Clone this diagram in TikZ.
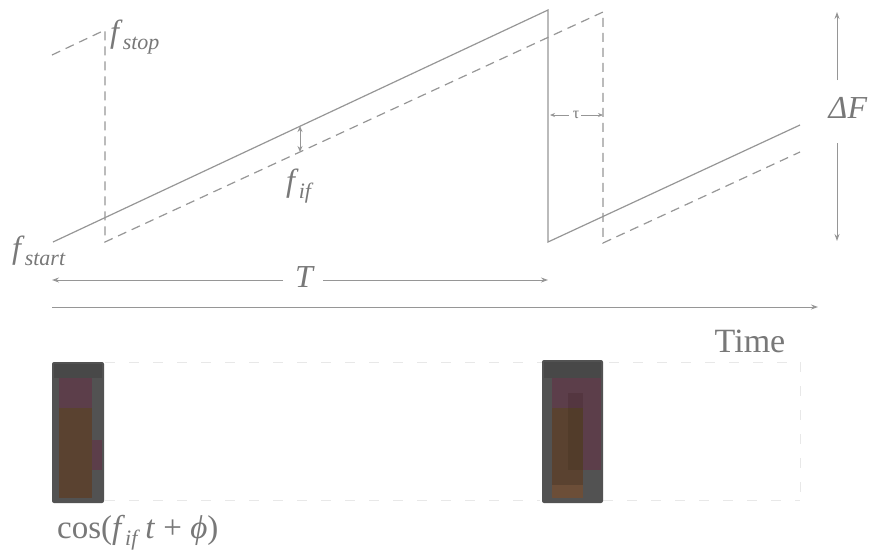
\documentclass[tikz,border=0pt]{standalone}
\usepackage{fontspec}
\setmainfont{Liberation Serif}
\usetikzlibrary{arrows.meta}
\definecolor{lncol}{RGB}{150,150,150}
\definecolor{txtcol}{RGB}{120,120,120}
\definecolor{faint}{RGB}{232,232,232}
\definecolor{blkgray}{RGB}{82,82,82}
\definecolor{blkdark}{RGB}{72,72,72}
\definecolor{blkpurp}{RGB}{92,62,74}
\definecolor{blkdpurp}{RGB}{84,54,64}
\definecolor{blkbrown}{RGB}{90,66,48}
\definecolor{blkdbrown}{RGB}{82,60,42}
\definecolor{blklbrown}{RGB}{108,78,56}
\newcommand\sbs[1]{\raisebox{-0.22em}{\fontsize{22}{24}\selectfont\textit{#1}}}
\tikzset{
  ramp/.style={draw=lncol, line width=1.2pt},
  dashramp/.style={draw=lncol, line width=1.2pt, dash pattern=on 9pt off 6pt},
  dim/.style={draw=lncol, line width=1pt, -{Stealth[length=7pt,width=5pt]}},
  lbl/.style={text=txtcol, inner sep=0pt, font=\fontsize{32}{36}\selectfont},
  faintline/.style={draw=faint, line width=0.8pt, dash pattern=on 10pt off 14pt},
}
\begin{document}
\begin{tikzpicture}[x=1pt,y=-1pt]
\useasboundingbox (0,0) rectangle (872,555);
% solid sweep
\coordinate (s0) at (53,242);
\coordinate (s1) at (548,10);
\coordinate (s2) at (548,242);
\coordinate (s3) at (800,125);
\draw[ramp] (s0) -- (s1) -- (s2) -- (s3);
% dashed (delayed) sweep
\coordinate (d0) at (52,55);
\coordinate (d1) at (105,30);
\coordinate (d2) at (105,242);
\coordinate (d3) at (603,12);
\coordinate (d4) at (603,243);
\coordinate (d5) at (800,152);
\draw[dashramp] (d0) -- (d1) -- (d2) -- (d3) -- (d4) -- (d5);
% labels
\node[lbl, anchor=base west] (fstop) at (110,42) {\textit{f}\sbs{stop}};
\node[lbl, anchor=base west] (fstart) at (12,258) {\textit{f}\sbs{start}};
\node[lbl, anchor=base west] (fif) at (286,191) {\textit{f}\sbs{if}};
% f_if arrow
\coordinate (fa) at (300,126);
\coordinate (fb) at (300,152);
\draw[dim, {Stealth[length=6pt,width=5pt]}-{Stealth[length=6pt,width=5pt]}] (fa) -- (fb);
% tau
\node[text=txtcol, inner sep=0pt, font=\fontsize{16}{17}\selectfont] (tau) at (576,115) {τ};
\coordinate (ta) at (550,115);
\coordinate (tb) at (603,115);
\draw[dim, -{Stealth[length=5pt,width=4pt]}] (tau.west) ++(-4,0) -- (ta);
\draw[dim, -{Stealth[length=5pt,width=4pt]}] (tau.east) ++(2,0) -- (tb);
% Delta F
\node[lbl] (dF) at (848,108) {\textit{ΔF}};
\coordinate (dFt) at (837,12);
\coordinate (dFb) at (837,241);
\draw[dim] (837,80) -- (dFt);
\draw[dim] (837,143) -- (dFb);
% T
\node[lbl] (T) at (305,277) {\textit{T}};
\coordinate (Ta) at (52,280);
\coordinate (Tb) at (548,280);
\draw[dim] (283,280) -- (Ta);
\draw[dim] (323,280) -- (Tb);
% time axis
\coordinate (ax0) at (52,307);
\coordinate (ax1) at (818,307);
\draw[dim] (ax0) -- (ax1);
\node[lbl, anchor=base, font=\fontsize{34}{38}\selectfont] (time) at (750,352) {Time};
% faint frame lines of the lower trace
\draw[faintline] (105,362) -- (800,362);
\draw[faintline] (105,500) -- (540,500);
\draw[faintline] (603,500) -- (800,500);
\draw[faintline] (800,362) -- (800,500);
% block 1
\fill[blkgray, rounded corners=2pt] (52,362) rectangle (104,503);
\fill[blkdark] (54,364) rectangle (102,378);
\fill[blkpurp] (59,378) rectangle (92,408);
\fill[blkbrown] (59,408) rectangle (92,498);
\fill[blkpurp] (92,440) rectangle (102,470);
% block 2
\fill[blkgray, rounded corners=2pt] (542,360) rectangle (603,503);
\fill[blkdark] (544,362) rectangle (601,378);
\fill[blkpurp] (552,378) rectangle (601,408);
\fill[blkdpurp] (568,393) rectangle (583,408);
\fill[blkbrown] (552,408) rectangle (583,485);
\fill[blkdbrown] (568,408) rectangle (583,470);
\fill[blkpurp] (583,408) rectangle (601,470);
\fill[blklbrown] (552,485) rectangle (583,498);
% cos label
\node[lbl, anchor=base west, font=\fontsize{33}{36}\selectfont] (cosl) at (57,538) {cos(\textit{f}\sbs{if}\,\textit{t} + \textit{ϕ})};
\end{tikzpicture}
\end{document}
